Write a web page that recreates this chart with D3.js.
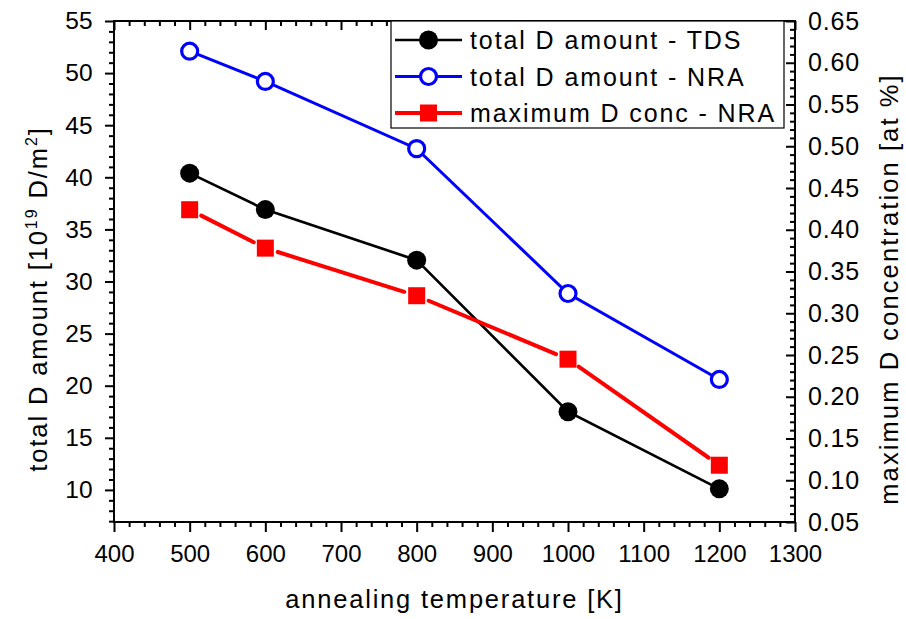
<!DOCTYPE html>
<html>
<head>
<meta charset="utf-8">
<script src="https://cdn.jsdelivr.net/npm/d3@7"></script>
<style>
  body { margin: 0; background: #fff; }
  svg text { font-family: "Liberation Sans", Arial, sans-serif; fill: #000; }
</style>
</head>
<body>
<svg width="906" height="619"></svg>
<script>
// datos
const temps = [500, 600, 800, 1000, 1200];
const tdsAmount = [40.4, 36.9, 32.05, 17.5, 10.1];
const nraAmount = [52.1, 49.2, 42.75, 28.85, 20.6];
const maxConc = [0.424, 0.378, 0.321, 0.245, 0.118];

const xTicks = [400, 500, 600, 700, 800, 900, 1000, 1100, 1200, 1300];
const yLeftTicks = [10, 15, 20, 25, 30, 35, 40, 45, 50, 55];
const yRightTicks = [0.05, 0.10, 0.15, 0.20, 0.25, 0.30, 0.35, 0.40, 0.45, 0.50, 0.55, 0.60, 0.65];

const legendNames = ["total D amount - TDS", "total D amount - NRA", "maximum D conc - NRA"];

const svg = d3.select("svg"),
  width = +svg.attr("width"),
  height = +svg.attr("height");

const margin = { top: 21, right: 111, bottom: 97, left: 114 };
const x0 = margin.left, x1 = width - margin.right;
const y0 = margin.top, y1 = height - margin.bottom;

// Escalas
const x = d3.scaleLinear().domain([400, 1300]).range([x0, x1]);
const yL = d3.scaleLinear().domain([6.92, 55]).range([y1, y0]);
const yR = d3.scaleLinear().domain([0.05, 0.65]).range([y1, y0]);

const xMinor = d3.range(400, 1301, 20).filter(v => v % 100 !== 0);
const yLMinor = d3.range(7, 55, 1).filter(v => v % 5 !== 0);
const yRMinor = d3.range(5, 66, 1).filter(v => v % 5 !== 0).map(v => v / 100);

function styleAxis(g, size = 24, spacing = 0) {
  g.select(".domain").remove();
  g.selectAll("line").attr("stroke", "#000").attr("stroke-width", 2);
  g.selectAll("text").style("font-size", size + "px")
    .style("letter-spacing", spacing + "px")
    .style("font-family", '"Liberation Sans", Arial, sans-serif');
}

// Eje inferior
svg.append("g").attr("transform", `translate(0,${y1})`)
  .call(d3.axisBottom(x).tickValues(xTicks).tickFormat(d3.format("d"))
    .tickSizeInner(10).tickSizeOuter(0).tickPadding(13))
  .call(styleAxis);
svg.append("g").attr("transform", `translate(0,${y1})`)
  .call(d3.axisBottom(x).tickValues(xMinor).tickFormat("").tickSizeInner(5).tickSizeOuter(0))
  .call(styleAxis);

// Eje superior (ticks hacia dentro)
svg.append("g").attr("transform", `translate(0,${y0})`)
  .call(d3.axisBottom(x).tickValues(xTicks).tickFormat("").tickSizeInner(9).tickSizeOuter(0))
  .call(styleAxis);
svg.append("g").attr("transform", `translate(0,${y0})`)
  .call(d3.axisBottom(x).tickValues(xMinor).tickFormat("").tickSizeInner(5).tickSizeOuter(0))
  .call(styleAxis);

// Eje izquierdo
svg.append("g").attr("transform", `translate(${x0},0)`)
  .call(d3.axisLeft(yL).tickValues(yLeftTicks).tickFormat(d3.format("d"))
    .tickSizeInner(9).tickSizeOuter(0).tickPadding(12))
  .call(g => styleAxis(g, 24.5, 0.3));
svg.append("g").attr("transform", `translate(${x0},0)`)
  .call(d3.axisLeft(yL).tickValues(yLMinor).tickFormat("").tickSizeInner(5).tickSizeOuter(0))
  .call(styleAxis);

// Eje derecho (ticks hacia dentro, etiquetas fuera)
svg.append("g").attr("transform", `translate(${x1},0)`)
  .call(d3.axisRight(yR).tickValues(yRightTicks).tickFormat(d3.format(".2f"))
    .tickSizeInner(-9).tickSizeOuter(0).tickPadding(13))
  .call(g => styleAxis(g, 25, 0.8));
svg.append("g").attr("transform", `translate(${x1},0)`)
  .call(d3.axisRight(yR).tickValues(yRMinor).tickFormat("").tickSizeInner(-5).tickSizeOuter(0))
  .call(styleAxis);

// Marco
svg.append("rect")
  .attr("x", x0).attr("y", y0)
  .attr("width", x1 - x0).attr("height", y1 - y0)
  .attr("fill", "none").attr("stroke", "#000").attr("stroke-width", 2);

// Títulos de ejes
svg.append("text")
  .attr("x", (x0 + x1) / 2).attr("y", 608)
  .attr("text-anchor", "middle")
  .style("font-size", "25.5px").style("letter-spacing", "1.8px")
  .text("annealing temperature [K]");

const leftTitle = svg.append("text")
  .attr("transform", "translate(47,299) rotate(-90)")
  .attr("text-anchor", "middle")
  .style("font-size", "25.5px").style("letter-spacing", "1.9px");
leftTitle.append("tspan").text("total D amount [10");
leftTitle.append("tspan").attr("dy", -10).style("font-size", "16px").text("19");
leftTitle.append("tspan").attr("dy", 10).text(" D/m");
leftTitle.append("tspan").attr("dy", -10).style("font-size", "16px").text("2");
leftTitle.append("tspan").attr("dy", 10).text("]");

svg.append("text")
  .attr("transform", "translate(898,289) rotate(-90)")
  .attr("text-anchor", "middle")
  .style("font-size", "25.5px").style("letter-spacing", "2.1px")
  .text("maximum D concentration [at %]");

// Series
const tds = temps.map((t, i) => ({ x: x(t), y: yL(tdsAmount[i]) }));
const nra = temps.map((t, i) => ({ x: x(t), y: yL(nraAmount[i]) }));
const conc = temps.map((t, i) => ({ x: x(t), y: yR(maxConc[i]) }));

const line = d3.line().x(d => d.x).y(d => d.y);

svg.append("path").datum(tds).attr("d", line)
  .attr("fill", "none").attr("stroke", "#000").attr("stroke-width", 2.7);
svg.selectAll("circle.tds").data(tds).join("circle").attr("class", "tds")
  .attr("cx", d => d.x).attr("cy", d => d.y).attr("r", 9.5).attr("fill", "#000");

svg.append("path").datum(nra).attr("d", line)
  .attr("fill", "none").attr("stroke", "#0000ff").attr("stroke-width", 3);
svg.selectAll("circle.nra").data(nra).join("circle").attr("class", "nra")
  .attr("cx", d => d.x).attr("cy", d => d.y).attr("r", 8)
  .attr("fill", "#fff").attr("stroke", "#0000ff").attr("stroke-width", 3.2);

// línea roja con huecos alrededor de los símbolos
const gap = 13;
d3.pairs(conc).forEach(([a, b]) => {
  const dx = b.x - a.x, dy = b.y - a.y, len = Math.hypot(dx, dy);
  const ux = dx / len, uy = dy / len;
  svg.append("line")
    .attr("x1", a.x + ux * gap).attr("y1", a.y + uy * gap)
    .attr("x2", b.x - ux * gap).attr("y2", b.y - uy * gap)
    .attr("stroke", "#ff0000").attr("stroke-width", 4).attr("stroke-linecap", "round");
});
svg.selectAll("rect.conc").data(conc).join("rect").attr("class", "conc")
  .attr("x", d => d.x - 8.5).attr("y", d => d.y - 8.5)
  .attr("width", 17).attr("height", 17).attr("fill", "#ff0000");

// Leyenda
const legend = svg.append("g");
legend.append("rect")
  .attr("x", 391).attr("y", y0).attr("width", 393).attr("height", 107)
  .attr("fill", "#fff").attr("stroke", "#000").attr("stroke-width", 1.2);

const legendColors = ["#000", "#0000ff", "#ff0000"];
const legendWidths = [2.7, 3, 4];
legendNames.forEach((name, i) => {
  const cy = 40 + i * 36.5;
  const g = legend.append("g");
  g.append("line").attr("x1", 395).attr("x2", 462).attr("y1", cy).attr("y2", cy)
    .attr("stroke", legendColors[i]).attr("stroke-width", legendWidths[i]);
  if (i === 0) {
    g.append("circle").attr("cx", 428.5).attr("cy", cy).attr("r", 9.5).attr("fill", "#000");
  } else if (i === 1) {
    g.append("circle").attr("cx", 428.5).attr("cy", cy).attr("r", 8)
      .attr("fill", "#fff").attr("stroke", "#0000ff").attr("stroke-width", 3.2);
  } else {
    g.append("rect").attr("x", 420).attr("y", cy - 8.5).attr("width", 17).attr("height", 17)
      .attr("fill", "#ff0000");
  }
  g.append("text").attr("x", 470).attr("y", cy + 9)
    .style("font-size", "25px").style("letter-spacing", "1.9px")
    .text(name);
});
</script>
</body>
</html>
